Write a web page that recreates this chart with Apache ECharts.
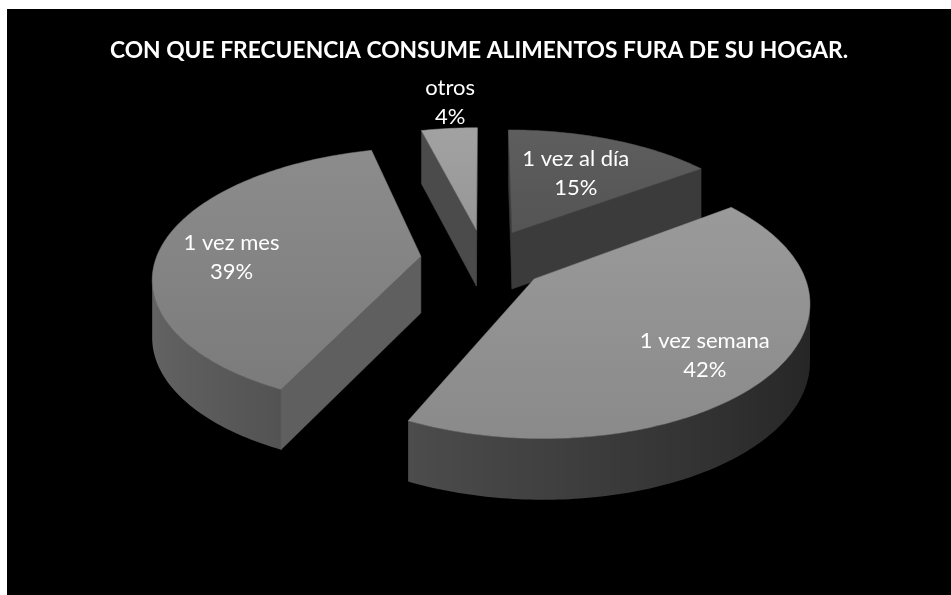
<!DOCTYPE html>
<html>
<head>
<meta charset="utf-8">
<script src="https://cdn.jsdelivr.net/npm/echarts/dist/echarts.min.js"></script>
<style>
  html, body { margin: 0; padding: 0; background: #ffffff; }
  #chart { position: absolute; left: 7px; top: 9px; width: 944px; height: 586px; }
</style>
</head>
<body>
<div id="chart"></div>
<script>
// Survey answers and their shares (percent)
const categories = ['1 vez al día', '1 vez semana', '1 vez mes', 'otros'];
const percentages = [15, 42, 39, 4];
const titleText = 'CON QUE FRECUENCIA CONSUME ALIMENTOS FURA DE SU HOGAR.';

// Look of each slice: top face gradient, cut-face colour, wall grey level,
// label distance along the slice bisector and a small nudge
const sliceStyle = [
  { top: ['#5e5e5e', '#545454'], cut: '#3b3b3b', wall: 70,  labelR: 0.61, labelDx: 0, labelDy: 0 },
  { top: ['#9a9a9a', '#8a8a8a'], cut: '#474747', wall: 92,  labelR: 0.74, labelDx: 0, labelDy: 8 },
  { top: ['#8c8c8c', '#7b7b7b'], cut: '#5f5f5f', wall: 100, labelR: 0.73, labelDx: 0, labelDy: 10 },
  { top: ['#a2a2a2', '#969696'], cut: '#4b4b4b', wall: 80,  labelR: 1.31, labelDx: 8, labelDy: 0 }
];

// Tilted-disc projection used for the 3D pie
const view = {
  cx: 0.5053, cy: 0.4266,   // disc centre as a fraction of the canvas
  kx: 265, ky: 127,         // horizontal / vertical radius in px
  ax: 0.15, ay: 0.16,       // depth foreshortening
  depth: 57, ad: 0.06,      // slab thickness in px
  explode: 0.24             // slice offset as a fraction of the radius
};

const rad = d => d * Math.PI / 180;
const total = percentages.reduce((a, b) => a + b, 0);
const starts = [];
(function () { let acc = 0; percentages.forEach(v => { starts.push(acc); acc += v; }); })();
const midAngle = i => (starts[i] + percentages[i] / 2) / total * 360;
const offsetZ = percentages.map((v, i) => -view.explode * Math.cos(rad(midAngle(i))));
const drawOrder = percentages.map((v, i) => i).sort((a, b) => offsetZ[a] - offsetZ[b]);

function project(X, Z, w, h) {
  return [w * view.cx + view.kx * X / (1 - view.ax * Z),
          h * view.cy + view.ky * Z / (1 - view.ay * Z)];
}
function wallH(Z) { return view.depth / (1 - view.ad * Z); }
function signedArea(p) {
  let s = 0;
  for (let k = 0; k < p.length; k++) {
    const a = p[k], b = p[(k + 1) % p.length];
    s += a[0] * b[1] - b[0] * a[1];
  }
  return s;
}
function grey(v) {
  const c = Math.max(0, Math.min(255, Math.round(v)));
  return 'rgb(' + c + ',' + c + ',' + c + ')';
}
// light comes from the left, so walls facing left are brighter
const wallShade = (baseGrey, ang) => grey(baseGrey * (0.7 + 0.3 * (-Math.sin(rad(ang)))));

function renderSlice(params, api) {
  const i = params.dataIndex;
  const w = api.getWidth(), h = api.getHeight();
  const v = api.value(1);
  const a0 = starts[i] / total * 360;
  const a1 = (starts[i] + v) / total * 360;
  const mid = (a0 + a1) / 2;
  const st = sliceStyle[i];
  const ox = view.explode * Math.sin(rad(mid));
  const oz = -view.explode * Math.cos(rad(mid));
  const ground = (ang, r) => [ox + r * Math.sin(rad(ang)), oz - r * Math.cos(rad(ang))];
  const top = g => project(g[0], g[1], w, h);
  const bot = g => { const p = project(g[0], g[1], w, h); return [p[0], p[1] + wallH(g[1])]; };
  const base = drawOrder.indexOf(i) * 1000;
  const children = [];

  const n = Math.max(2, Math.ceil(a1 - a0));
  const arc = [];
  for (let k = 0; k <= n; k++) {
    const ang = a0 + (a1 - a0) * k / n;
    arc.push({ ang: ang, g: ground(ang, 1) });
  }

  // outer curved wall: find runs of strips that face the viewer
  const visible = [];
  for (let k = 0; k < n; k++) {
    const quad = [top(arc[k].g), top(arc[k + 1].g), bot(arc[k + 1].g), bot(arc[k].g)];
    visible.push(signedArea(quad) < 0);
  }
  let k = 0;
  while (k < n) {
    if (!visible[k]) { k++; continue; }
    const k0 = k;
    while (k < n && visible[k]) k++;
    const k1 = k; // last arc point index of the run
    const run = arc.slice(k0, k1 + 1);
    const upper = run.map(a => top(a.g));
    const lower = run.map(a => bot(a.g)).reverse();
    const xs = upper.map(p => p[0]);
    const xmin = Math.min.apply(null, xs), xmax = Math.max.apply(null, xs);
    const span = Math.max(1, xmax - xmin);
    const stops = run.map((a, j) => ({ offset: (xs[j] - xmin) / span, color: wallShade(st.wall, a.ang) }))
      .sort((p, q) => p.offset - q.offset);
    children.push({ type: 'polygon', shape: { points: upper.concat(lower) },
      style: { fill: new echarts.graphic.LinearGradient(xmin, 0, xmax, 0, stops, true) },
      z2: base + 1 });
  }

  // the two radial cut faces
  const apex = [ox, oz];
  const faces = [
    [top(apex), top(arc[0].g), bot(arc[0].g), bot(apex)],
    [top(arc[n].g), top(apex), bot(apex), bot(arc[n].g)]
  ];
  faces.forEach(q => {
    if (signedArea(q) < 0) {
      children.push({ type: 'polygon', shape: { points: q },
        style: { fill: st.cut, stroke: st.cut, lineWidth: 0.5 }, z2: base + 2 });
    }
  });

  // top face
  const pts = [top(apex)].concat(arc.map(a => top(a.g)));
  children.push({ type: 'polygon', shape: { points: pts },
    style: {
      fill: new echarts.graphic.LinearGradient(0, 0, 0, 1, [
        { offset: 0, color: st.top[0] }, { offset: 1, color: st.top[1] }
      ]),
      stroke: st.top[1], lineWidth: 0.5
    }, z2: base + 3 });

  // data label
  const lp = top(ground(mid, st.labelR));
  children.push({ type: 'text', z2: 100000,
    style: {
      text: categories[i] + '\n' + v + '%',
      x: lp[0] + st.labelDx, y: lp[1] + st.labelDy, align: 'center', verticalAlign: 'middle',
      fill: '#ffffff', fontSize: 22, fontFamily: 'Lato', lineHeight: 29
    } });

  return { type: 'group', children: children };
}

const chart = echarts.init(document.getElementById('chart'), null, { renderer: 'canvas' });
chart.setOption({
  backgroundColor: '#000000',
  animation: false,
  title: {
    text: titleText,
    left: 'center',
    top: 25,
    textStyle: { color: '#ffffff', fontSize: 22.8, fontWeight: 'bold', fontFamily: 'Lato' }
  },
  series: [{
    type: 'custom',
    coordinateSystem: 'none',
    silent: true,
    renderItem: renderSlice,
    data: percentages.map((v, i) => [i, v])
  }]
});
</script>
</body>
</html>
